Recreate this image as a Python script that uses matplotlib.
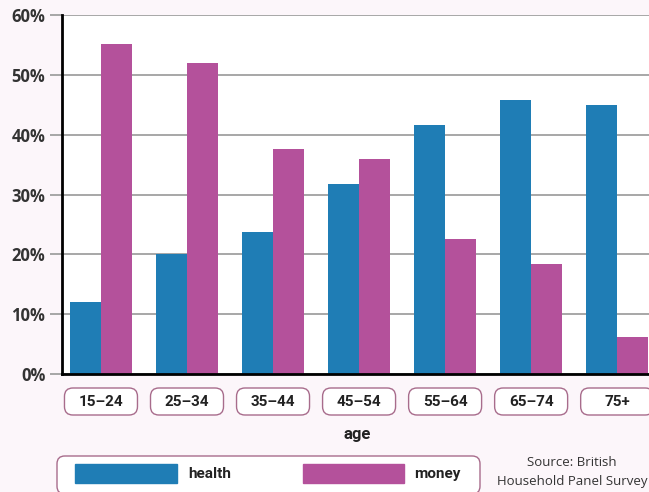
import matplotlib.pyplot as plt
from matplotlib.patches import FancyBboxPatch, Rectangle

ages = ["15–24", "25–34", "35–44", "45–54", "55–64", "65–74", "75+"]
health = [12, 20, 23.8, 31.8, 41.6, 45.8, 45]
money = [55.2, 52, 37.6, 36, 22.5, 18.4, 6.2]
yticks = [0, 10, 20, 30, 40, 50, 60]

blue = "#1f7db5"
pink = "#b4519b"
bg = "#fcf6fa"
edge = "#a86c8c"

W, H = 649, 492
fig = plt.figure(figsize=(W / 100, H / 100), dpi=100, facecolor=bg)
ax = fig.add_axes([62 / W, 1 - 374 / H, 1 - 62 / W, (374 - 15) / H])
ax.set_facecolor("white")

x = list(range(len(ages)))
bw = 0.36
ax.bar([i - bw / 2 for i in x], health, bw, color=blue, zorder=3)
ax.bar([i + bw / 2 for i in x], money, bw, color=pink, zorder=3)

ax.set_xlim(-0.453, 6.37)
ax.set_ylim(0, 60)
ax.set_yticks(yticks)
ax.set_yticklabels([f"{v}%" for v in yticks], fontsize=12,
                   fontweight="bold", color="#333333", family="Open Sans")
ax.set_xticks([])
ax.tick_params(axis="y", length=9, width=1.3, color="#a0a0a0", pad=3)
ax.grid(axis="y", color="#a0a0a0", linewidth=1.3, zorder=1)
for s in ["top", "right"]:
    ax.spines[s].set_visible(False)
ax.spines["left"].set_linewidth(2)
ax.spines["bottom"].set_linewidth(2)
ax.spines["left"].set_zorder(4)
ax.spines["bottom"].set_zorder(4)

# category boxes under the axis
fig.canvas.draw()
for i, lab in enumerate(ages):
    cx = fig.transFigure.inverted().transform(ax.transData.transform((i, 0)))[0]
    bw_f, bh_f = 73 / W, 27 / H
    y0 = 1 - 415 / H
    box = FancyBboxPatch((cx - bw_f / 2, y0), bw_f, bh_f,
                         boxstyle="round,pad=0,rounding_size=0.013",
                         mutation_aspect=W / H,
                         transform=fig.transFigure, facecolor="white",
                         edgecolor=edge, linewidth=1)
    fig.patches.append(box)
    fig.text(cx, y0 + bh_f / 2, lab, ha="center", va="center", fontsize=11,
             fontweight="bold", color="#222222", family="Roboto")

fig.text(357 / W, 1 - 435 / H, "age", ha="center", va="center",
         fontsize=12, fontweight="bold", color="#222222", family="Roboto")

# legend box
leg = FancyBboxPatch((57 / W, 1 - 494 / H), (480 - 57) / W, (494 - 456) / H,
                     boxstyle="round,pad=0,rounding_size=0.012",
                     mutation_aspect=W / H,
                     transform=fig.transFigure, facecolor="white",
                     edgecolor=edge, linewidth=1)
fig.patches.append(leg)
fig.patches.append(Rectangle((75 / W, 1 - 483 / H), 102 / W, 19 / H,
                             transform=fig.transFigure, color=blue))
fig.patches.append(Rectangle((303 / W, 1 - 483 / H), 101 / W, 19 / H,
                             transform=fig.transFigure, color=pink))
fig.text(188 / W, 1 - 474 / H, "health", ha="left", va="center", fontsize=11,
         fontweight="bold", color="#222222", family="Roboto")
fig.text(414 / W, 1 - 474 / H, "money", ha="left", va="center", fontsize=11,
         fontweight="bold", color="#222222", family="Roboto")

fig.text(572 / W, 1 - 463 / H, "Source: British", ha="center", va="center",
         fontsize=9.5, color="#333333", family="Open Sans")
fig.text(572 / W, 1 - 481 / H, "Household Panel Survey", ha="center",
         va="center", fontsize=9.5, color="#333333", family="Open Sans")

fig.savefig("out.png", dpi=100, facecolor=bg)
